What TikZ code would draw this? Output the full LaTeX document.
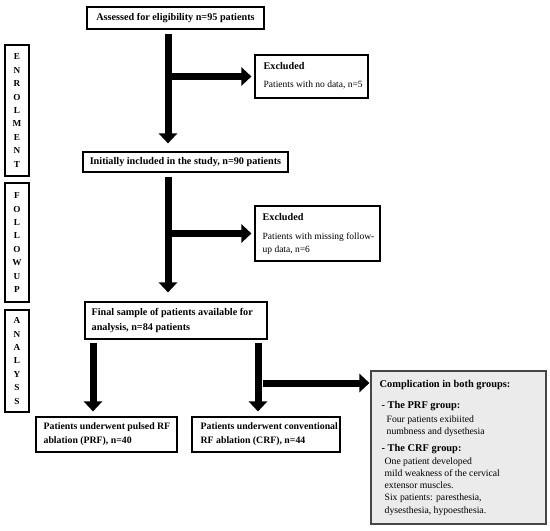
\documentclass[tikz,border=0pt]{standalone}
\usepackage{fontspec}
\setmainfont{Liberation Serif}
\usepackage{xcolor}
\definecolor{cgray}{RGB}{235,235,235}
\definecolor{cedge}{RGB}{70,70,70}
\usetikzlibrary{arrows.meta,positioning,calc}

\begin{document}
\begin{tikzpicture}[x=1pt,y=-1pt,
  fbox/.style={rectangle, draw=black, line width=1.1pt, inner sep=0pt,
               minimum width=#1, font=\fontsize{10.2}{12}\selectfont\bfseries},
  sbox/.style={rectangle, draw=black, line width=1.1pt, minimum width=24pt,
               minimum height=#1, align=center, font=\fontsize{9.2}{13.4}\selectfont\bfseries},
  tlbl/.style={anchor=west, inner sep=0pt, align=left, font=\fontsize{10.2}{14}\selectfont\bfseries},
  body/.style={font=\fontsize{9.5}{13}\selectfont\mdseries},
  arr/.style={-{Triangle[length=10pt, width=18pt]}, line width=7pt, draw=black}
]
\useasboundingbox (0,0) rectangle (550,531);

% Stage 1: Enrolment
\node[fbox=177pt, minimum height=22pt] (assess) at (175.5,18) {Assessed for eligibility n=95 patients};
\node[fbox=113pt, minimum height=43pt] (excl1) at (311.5,76.5) {};
\node[tlbl] at ([xshift=9pt,yshift=10.5pt]excl1.west) {Excluded};
\node[tlbl, body] at ([xshift=9pt,yshift=-8.5pt]excl1.west) {Patients with no data, n=5};
\node[fbox=205pt, minimum height=20pt] (incl) at (185.5,162) {Initially included in the study, n=90 patients};
\node[sbox=131pt] (enrol) at (17,110.5) {E\\N\\R\\O\\L\\M\\E\\N\\T};

% Stage 2: Follow up
\node[fbox=125pt, minimum height=55pt] (excl2) at (317.5,233.5) {};
\node[tlbl] at ([xshift=8pt,yshift=16.5pt]excl2.west) {Excluded};
\node[tlbl, body] at ([xshift=8pt,yshift=-10pt]excl2.west) {Patients with missing follow-\\up data, n=6};
\node[sbox=119pt] (follow) at (17,242.5) {F\\O\\L\\L\\O\\W\\U\\P};

% Stage 3: Analysis
\node[fbox=182pt, minimum height=37pt] (final) at (176,320.5) {};
\node[tlbl, font=\fontsize{10.2}{15}\selectfont\bfseries] at ([xshift=7pt]final.west)
  {Final sample of patients available for\\analysis, n=84 patients};
\node[sbox=102pt] (analys) at (17,361) {A\\N\\A\\L\\Y\\S\\S};
\node[fbox=141pt, minimum height=35pt] (prf) at (106.5,434.5) {};
\node[tlbl, font=\fontsize{9.8}{14}\selectfont\bfseries] at ([xshift=8pt]prf.west)
  {Patients underwent pulsed RF\\ablation (PRF), n=40};
\node[fbox=148pt, minimum height=35pt] (crf) at (266,434.5) {};
\node[tlbl, font=\fontsize{9.8}{14}\selectfont\bfseries] at ([xshift=9pt]crf.west)
  {Patients underwent conventional\\RF ablation (CRF), n=44};

% Complications
\node[rectangle, draw=cedge, fill=cgray, line width=1.1pt, minimum width=175pt,
      minimum height=153pt] (compl) at (458.5,447.5) {};
\node[tlbl, anchor=north west, font=\fontsize{9.7}{12.2}\selectfont] at ([xshift=9pt,yshift=-10pt]compl.north west)
  {{\fontsize{10.4}{12}\selectfont\bfseries Complication in both groups:}\\[8pt]
   \hspace*{2pt}{\fontsize{10.4}{12}\selectfont\bfseries - The PRF group:}\\[2pt]
   \hspace*{7pt}Four patients exibiited\\
   \hspace*{7pt}numbness and dysethesia\\[5pt]
   \hspace*{2pt}{\fontsize{10.4}{12}\selectfont\bfseries - The CRF group:}\\[0.5pt]
   \hspace*{5pt}One patient developed\\
   \hspace*{5pt}mild weakness of the cervical\\
   \hspace*{5pt}extensor muscles.\\
   \hspace*{5pt}Six patients: paresthesia,\\
   \hspace*{5pt}dysesthesia, hypoesthesia.};

% Spine positions
\coordinate (spine) at (168,0);
\coordinate (lspine) at (93,0);
\coordinate (rspine) at (258,0);

% Arrows
\draw[arr, shorten <=4pt, shorten >=8pt] (assess.south -| spine) -- (incl.north -| spine);
\draw[arr, shorten >=3pt] ($(spine |- excl1.west)+(3,0)$) -- (excl1.west);
\draw[arr, shorten <=4pt, shorten >=9pt] (incl.south -| spine) -- (final.north -| spine);
\draw[arr, shorten >=3pt] ($(spine |- excl2.west)+(3,0)$) -- (excl2.west);
\draw[arr, shorten <=3pt, shorten >=5pt] (final.south -| lspine) -- (prf.north -| lspine);
\draw[arr, shorten <=3pt, shorten >=5pt] (final.south -| rspine) -- (crf.north -| rspine);
\coordinate (cbranch) at (263,383);
\draw[arr, shorten >=1pt] (cbranch) -- (cbranch -| compl.west);
\end{tikzpicture}
\end{document}
